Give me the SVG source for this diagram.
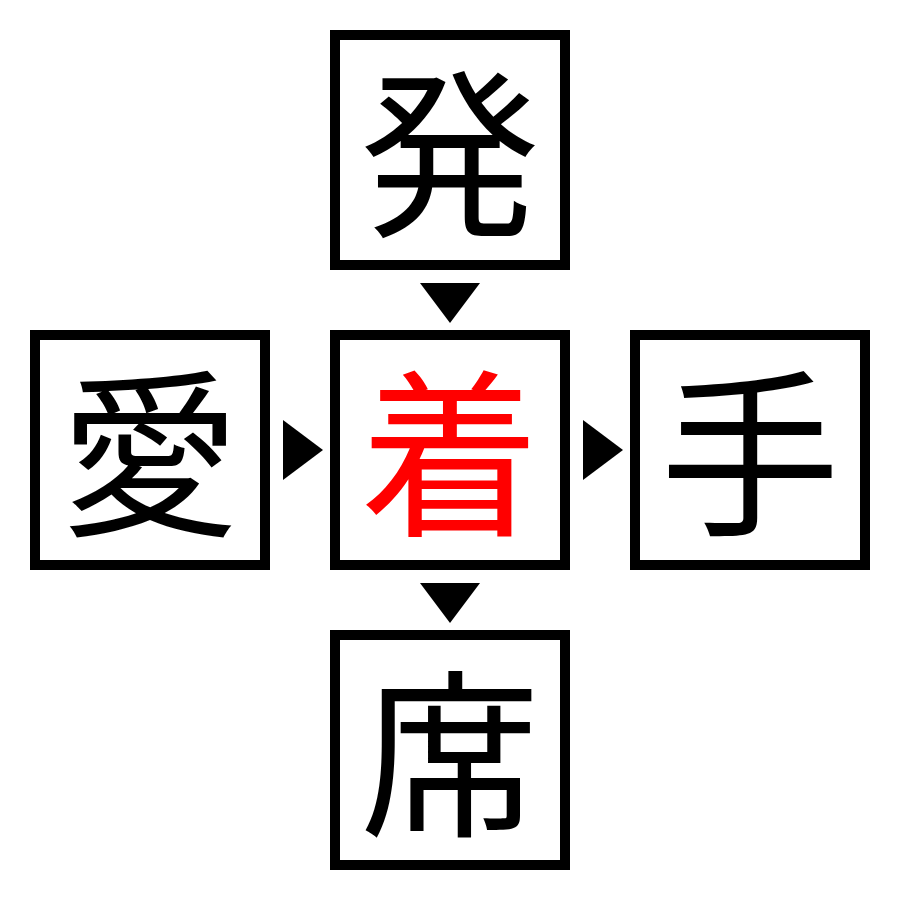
<svg xmlns="http://www.w3.org/2000/svg" width="900" height="900" viewBox="0 0 900 900">
<style>
.box{fill:#fff;stroke:#000;stroke-width:10}
.ch{font-family:"Noto Sans CJK JP","Noto Sans CJK SC",serif;font-size:180px;text-anchor:middle;fill:#000}
.red{fill:#ff0000}
.arr{fill:#000}
</style>
<rect width="900" height="900" fill="#fff"/>
<g id="node-top"><rect class="box" x="335" y="35" width="230" height="230"/><text class="ch" x="450" y="222">発</text></g>
<g id="node-left"><rect class="box" x="35" y="335" width="230" height="230"/><text class="ch" x="150" y="522">愛</text></g>
<g id="node-center"><rect class="box" x="335" y="335" width="230" height="230"/><text class="ch red" x="450" y="522">着</text></g>
<g id="node-right"><rect class="box" x="635" y="335" width="230" height="230"/><text class="ch" x="750" y="522">手</text></g>
<g id="node-bottom"><rect class="box" x="335" y="635" width="230" height="230"/><text class="ch" x="450" y="822">席</text></g>
<g id="connectors">
<polygon class="arr" points="420,283 480,283 450,323"/>
<polygon class="arr" points="283,420 283,480 323,450"/>
<polygon class="arr" points="583,420 583,480 623,450"/>
<polygon class="arr" points="420,583 480,583 450,623"/>
</g>
</svg>
